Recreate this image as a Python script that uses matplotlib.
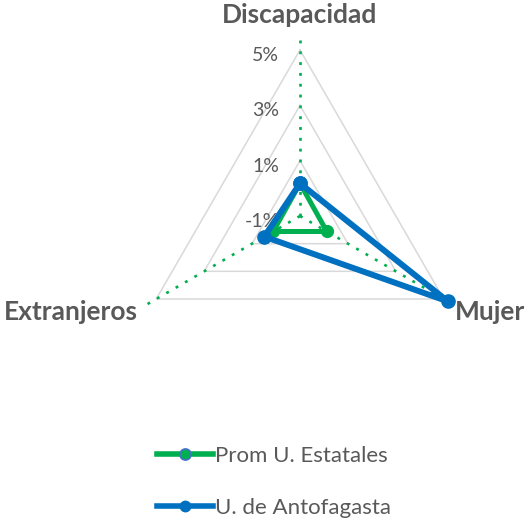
import numpy as np
import matplotlib.pyplot as plt
from matplotlib.lines import Line2D

plt.rcParams['font.family'] = ['Lato', 'DejaVu Sans']

categories = ["Discapacidad", "Mujer", "Extranjeros"]
prom_estatales = [0.18, 0.12, 0.12]
u_antofagasta = [0.18, 5.18, 0.49]
tick_values = [-1, 1, 3, 5]
tick_labels = ["-1%", "1%", "3%", "5%"]
series_names = ["Prom U. Estatales", "U. de Antofagasta"]

r_min = -1
angles = np.deg2rad([90, -30, 210])

green = '#00B050'
blue = '#0070C0'
grey_txt = '#595959'


def to_xy(values):
    r = np.asarray(values, dtype=float) - r_min
    return r * np.cos(angles), r * np.sin(angles)


def closed(x, y):
    return np.append(x, x[0]), np.append(y, y[0])


fig = plt.figure(figsize=(5.28, 5.2), dpi=100)
ax = fig.add_axes([0, 0, 1, 1])
u = 166 / 6.0  # pixels per percent
ax.set_xlim(-300 / u, 228 / u)
ax.set_ylim(-304 / u, 216 / u)
ax.axis('off')

# triangular grid
for t in tick_values[1:]:
    x, y = closed(*to_xy([t] * 3))
    ax.plot(x, y, color='#D9D9D9', lw=1.1, zorder=1)

# dotted spokes
sx, sy = to_xy([5.4] * 3)
cx, cy = to_xy([r_min] * 3)
for i in range(3):
    ax.plot([cx[i], sx[i]], [cy[i], sy[i]], color=green, lw=1.9,
            dashes=(1.1, 3.0), zorder=2)

# tick labels along the vertical axis
for t, lab in zip(tick_values, tick_labels):
    ax.annotate(lab, (0, t - r_min), xytext=(-15, -4), textcoords='offset points',
                ha='right', va='center', fontsize=14, color=grey_txt)

# category labels
vx, vy = to_xy([5] * 3)
offsets = [(0, 25), (8, -9), (-13.5, -9)]
aligns = ['center', 'left', 'right']
for i, name in enumerate(categories):
    ax.annotate(name, (vx[i], vy[i]), xytext=offsets[i], textcoords='offset points',
                ha=aligns[i], va='center', fontsize=19, fontweight='bold',
                color=grey_txt)

# series
gx, gy = closed(*to_xy(prom_estatales))
ax.plot(gx, gy, color=green, lw=3.6, marker='o', ms=8.5, zorder=3,
        solid_joinstyle='round')
bx, by = closed(*to_xy(u_antofagasta))
ax.plot(bx, by, color=blue, lw=4.3, marker='o', ms=9.5, zorder=4,
        solid_joinstyle='round')

handles = [
    Line2D([], [], color=green, lw=4, marker='o', ms=8, markerfacecolor=green,
           markeredgecolor='#4472C4', markeredgewidth=1.2),
    Line2D([], [], color=blue, lw=4, marker='o', ms=7.5),
]
fig.legend(handles, series_names, loc='center', bbox_to_anchor=(274 / 528, 1 - 482 / 520),
           frameon=False, fontsize=16, handlelength=2.55, handletextpad=0.1,
           labelspacing=1.45, labelcolor=grey_txt)

fig.savefig('out.png', dpi=100)
